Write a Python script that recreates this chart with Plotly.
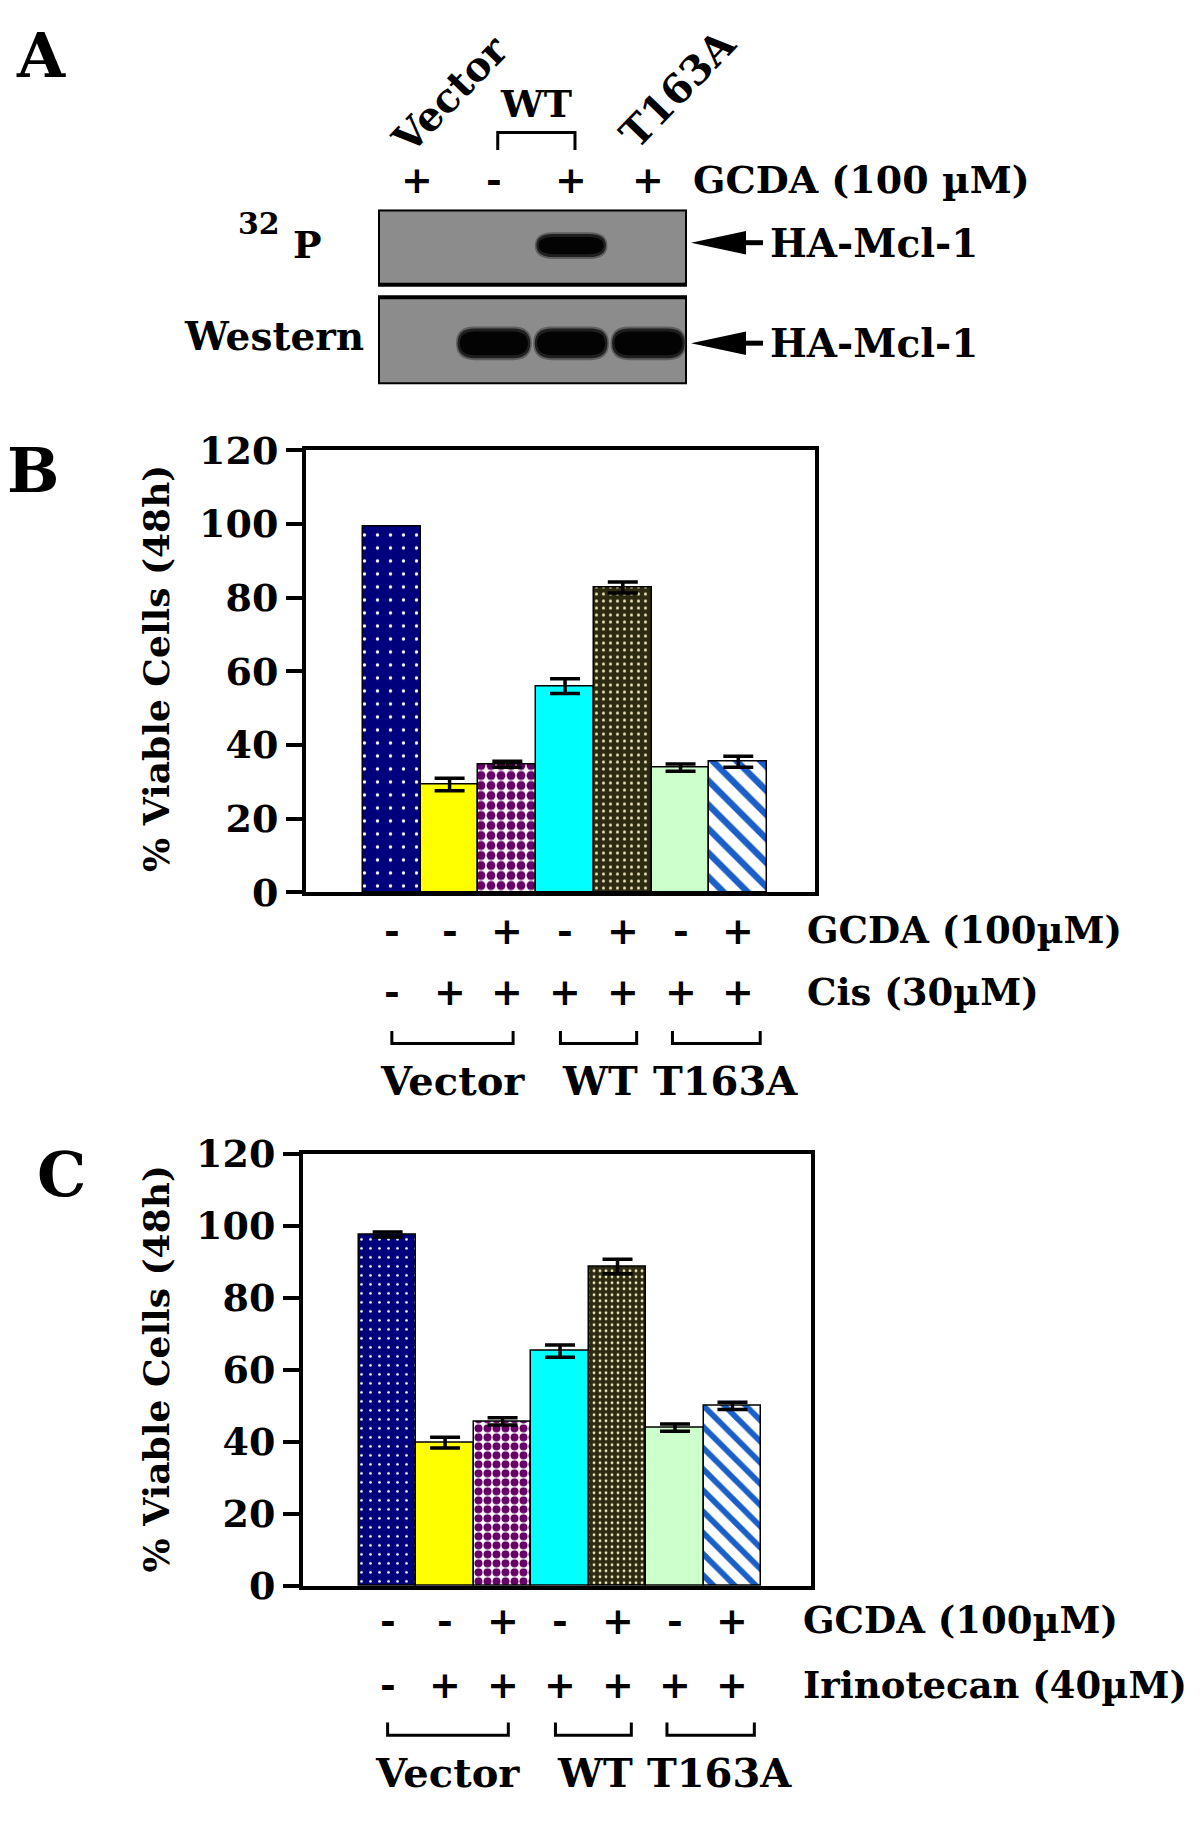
import plotly.graph_objects as go

W, H = 1200, 1840

# ---------------- data ----------------
# Panel A (blot)
lanes_A = [1, 2, 3, 4]
gcda_A = ["+", "-", "+", "+"]
p32_signal = [0, 0, 1, 0]
western_signal = [0, 1, 1, 1]

# Panels B / C
bar_pos = [0, 1, 2, 3, 4, 5, 6]
gcda_row = ["-", "-", "+", "-", "+", "-", "+"]
drug_row = ["-", "+", "+", "+", "+", "+", "+"]
group_names = ["Vector", "WT", "T163A"]
group_first = [0, 3, 5]
group_last = [2, 4, 6]
cis_viability = [99.3, 29.3, 34.8, 56.0, 82.8, 33.9, 35.5]
cis_error = [None, 1.7, 0.8, 2.0, 1.5, 1.0, 1.5]
irino_viability = [97.6, 39.8, 45.7, 65.2, 88.7, 44.0, 50.0]
irino_error = [0.7, 1.5, 1.0, 1.7, 2.0, 1.0, 1.0]
yticks = [0, 20, 40, 60, 80, 100, 120]

# ---------------- styles ----------------
FONT = "DejaVu Serif"
bar_bg = ["#00007c", "#ffff00", "#ffffff", "#00ffff", "#2d2a12", "#ccffcc", "#ffffff"]
bar_fg = ["#ffffff", "#ffff00", "#660066", "#00ffff", "#ece6bc", "#ccffcc", "#1a5fc8"]
bar_shape = [".", "", ".", "", ".", "", "\\"]


def px(x):
    return x / W


def py(y):
    return 1 - y / H


fig = go.Figure()


def add_panel(vals, errs, xa, ya, sizes, sols):
    for i in range(len(vals)):
        kw = {}
        if errs[i] is not None:
            kw["error_y"] = dict(type="data", array=[errs[i]], color="black", thickness=3.5, width=15)
        pat = dict(shape=bar_shape[i], fgcolor=bar_fg[i], size=sizes[i], solidity=sols[i],
                   fillmode="overlay", fgopacity=1)
        fig.add_trace(go.Bar(
            x=[bar_pos[i]], y=[vals[i]], width=1, xaxis=xa, yaxis=ya,
            marker=dict(color=bar_bg[i], line=dict(color="black", width=1.5), pattern=pat),
            showlegend=False, hoverinfo="skip", **kw))


add_panel(cis_viability, cis_error, "x", "y",
          [13, 10, 10, 10, 7, 10, 17], [0.05, 0.3, 0.62, 0.3, 0.15, 0.3, 0.38])
add_panel(irino_viability, irino_error, "x2", "y2",
          [9, 10, 9, 10, 6, 10, 15], [0.07, 0.3, 0.62, 0.3, 0.17, 0.3, 0.38])

tickfont = dict(family=FONT, size=38, color="black", weight="bold")


def yax(dom):
    return dict(domain=dom, range=[0, 120], tickvals=yticks, ticks="outside", ticklen=16,
                tickwidth=3.5, tickcolor="black", showline=True, linewidth=4, linecolor="black",
                mirror=True, showgrid=False, zeroline=False, tickfont=tickfont,
                ticklabelstandoff=0, fixedrange=True)


def xax(dom, rng):
    return dict(domain=dom, range=rng, showticklabels=False, ticks="", showline=True,
                linewidth=4, linecolor="black", mirror=True, showgrid=False, zeroline=False)


fig.update_layout(
    width=W, height=H, margin=dict(l=0, r=0, t=0, b=0), barmode="overlay",
    paper_bgcolor="white", plot_bgcolor="white", showlegend=False, bargap=0,
    xaxis=dict(**xax([px(298), px(807)], [-1.487, 7.329]), anchor="y"),
    yaxis=dict(**yax([py(883), py(430)]), anchor="x"),
    xaxis2=dict(**xax([px(295), px(803)], [-1.472, 7.366]), anchor="y2"),
    yaxis2=dict(**yax([py(1594), py(1151)]), anchor="x2"),
    xaxis3=dict(domain=[px(370), px(679)], range=[0.5, 4.5], visible=False, anchor="y3"),
    yaxis3=dict(domain=[py(362), py(183)], range=[362, 183], visible=False, anchor="x3"),
)

ann = []
shapes = []


def text(x, y, s, size=38, xref="paper", xanchor="center", angle=0, yanchor="middle"):
    ann.append(dict(x=x, y=y, xref=xref, yref="paper", text=s, showarrow=False,
                    xanchor=xanchor, yanchor=yanchor, textangle=angle,
                    font=dict(family=FONT, size=size, color="black", weight="bold")))


# panel letters
text(px(33), py(25), "A", size=62)
text(px(25), py(451), "B", size=62)
text(px(53), py(1172), "C", size=62)

# ---------------- Panel A ----------------
text(px(441), py(65), "Vector", size=40, angle=-46)
text(px(669), py(59), "T163A", size=40, angle=-46)
text(2.55, py(74), "WT", size=38, xref="x3")
shapes.append(dict(type="path", xref="x3", yref="paper", line=dict(color="black", width=3),
                   path=f"M 2.05,{py(122)} L 2.05,{py(104)} L 3.05,{py(104)} L 3.05,{py(122)}"))
for lane, s in zip(lanes_A, gcda_A):
    text(lane, py(152), s, xref="x3")
text(px(683), py(152), "GCDA (100 µM)", xanchor="left")
text(px(251), py(197), "32", size=30)
text(px(299), py(219), "P")
text(px(266), py(313), "Western", size=39)

# blot boxes (y in pixel rows of axis y3)
boxes = [(183, 260), (273, 362)]
for y0, y1 in boxes:
    shapes.append(dict(type="rect", xref="x3", yref="y3", x0=0.5, x1=4.5, y0=y0, y1=y1,
                       fillcolor="#8c8c8c", line=dict(color="black", width=4), layer="below"))


def pill(xc, half_w, yc, half_h, r):
    x0, x1 = xc - half_w, xc + half_w
    y0, y1 = yc - half_h, yc + half_h
    return (f"M {x0 + r},{y0} L {x1 - r},{y0} Q {x1},{y0} {x1},{yc} Q {x1},{y1} {x1 - r},{y1} "
            f"L {x0 + r},{y1} Q {x0},{y1} {x0},{yc} Q {x0},{y0} {x0 + r},{y0} Z")


def bands(signal, box, frac_c, frac_h, half_w):
    y0, y1 = box
    yc = y0 + frac_c * (y1 - y0)
    hh = frac_h * (y1 - y0)
    for lane, sig in zip(lanes_A, signal):
        if sig > 0:
            shapes.append(dict(type="path", xref="x3", yref="y3",
                               path=pill(lane, half_w + 0.02, yc, hh + 3, 0.24),
                               fillcolor="rgba(40,40,40,0.45)", line=dict(width=0)))
            shapes.append(dict(type="path", xref="x3", yref="y3",
                               path=pill(lane, half_w, yc, hh + 1, 0.22),
                               fillcolor="rgba(15,15,15,0.8)", line=dict(width=0)))
            shapes.append(dict(type="path", xref="x3", yref="y3",
                               path=pill(lane, half_w - 0.03, yc, hh - 2, 0.2),
                               fillcolor=f"rgba(3,3,3,{sig})", line=dict(width=0)))


bands(p32_signal, boxes[0], 0.48, 0.14, 0.45)
bands(western_signal, boxes[1], 0.53, 0.16, 0.47)

# arrows + labels
for yc in (217, 320):
    shapes.append(dict(type="path", xref="paper", yref="paper", fillcolor="black", line=dict(width=0),
                       path=f"M {px(683)},{py(yc)} L {px(738)},{py(yc - 12)} L {px(738)},{py(yc + 12)} Z"))
    shapes.append(dict(type="line", xref="paper", yref="paper", x0=px(733), x1=px(755),
                       y0=py(yc), y1=py(yc), line=dict(color="black", width=5)))
    text(px(760), py(yc), "HA-Mcl-1", xanchor="left", size=39)


# ---------------- Panels B / C labels ----------------
bracket_pad_l = [0.0, -0.08, -0.14]
bracket_pad_r = [0.1, 0.24, 0.38]
label_shift = [0.0, 0.03, 0.16]


def lower_labels(xref, y_row1, y_row2, y_br_top, y_br_bot, y_grp, label2, lab_x):
    for p, s in zip(bar_pos, gcda_row):
        text(p, py(y_row1), s, xref=xref)
    for p, s in zip(bar_pos, drug_row):
        text(p, py(y_row2), s, xref=xref)
    text(px(lab_x), py(y_row1), "GCDA (100µM)", xanchor="left", size=37)
    text(px(lab_x), py(y_row2), label2, xanchor="left", size=37)
    for name, a, b, pl, pr, sh in zip(group_names, group_first, group_last,
                                      bracket_pad_l, bracket_pad_r, label_shift):
        x0, x1 = a + pl, b + pr
        shapes.append(dict(type="path", xref=xref, yref="paper", line=dict(color="black", width=3),
                           path=f"M {x0},{py(y_br_top)} L {x0},{py(y_br_bot)} L {x1},{py(y_br_bot)} L {x1},{py(y_br_top)}"))
        text((x0 + x1) / 2 + sh, py(y_grp), name, xref=xref, size=40)


lower_labels("x", 922, 985, 1025, 1038, 1076, "Cis (30µM)", 797)
lower_labels("x2", 1629, 1695, 1734, 1747, 1785, "Irinotecan (40µM)", 793)

# y-axis titles
text(px(148), py(654), "% Viable Cells (48h)", size=36, angle=-90)
text(px(148), py(1372), "% Viable Cells (48h)", size=36, angle=-90)

fig.update_layout(annotations=ann, shapes=shapes)
fig.write_html("out.html")
